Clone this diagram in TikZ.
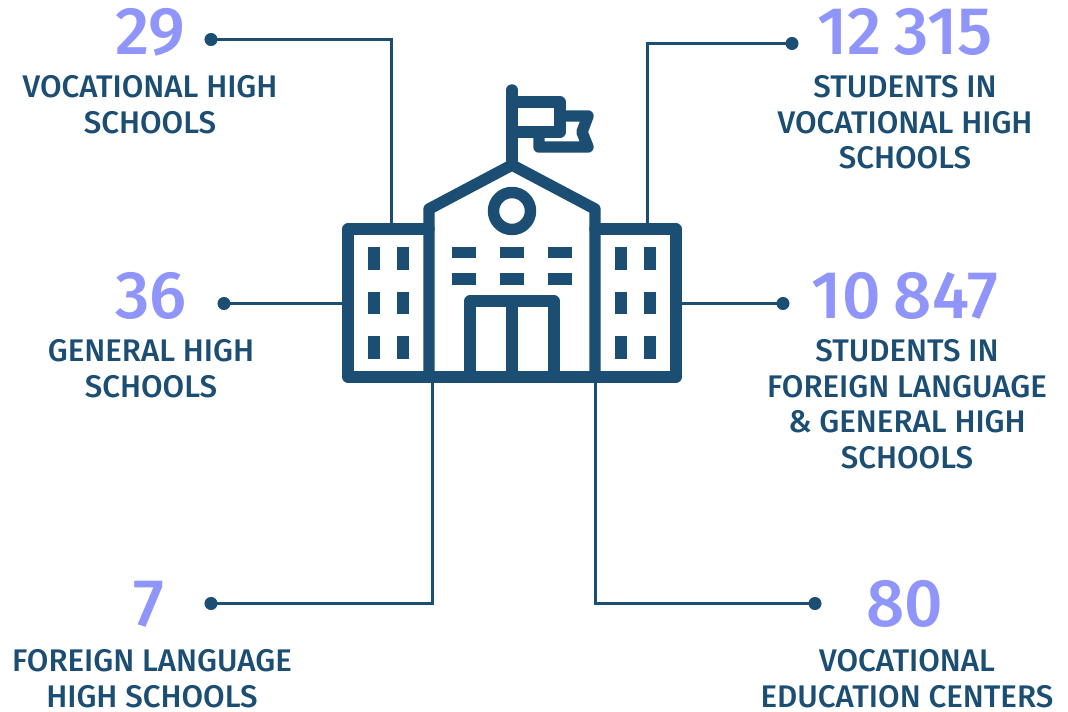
\documentclass[tikz,border=0pt]{standalone}
\usepackage{fontspec}
\setmainfont{Fira Sans Medium}
\newfontfamily\numfont{Fira Sans Medium}
\definecolor{ink}{HTML}{1C4E74}
\definecolor{numc}{HTML}{8F95FB}
\newcommand{\numgap}{\hspace{0.2em}}
\tikzset{
  px/.style={x=0.75pt,y=-0.75pt},
  icon/.style={draw=ink,line width=8.6pt,line join=round,line cap=round},
  iconfill/.style={fill=ink,draw=none},
  link/.style={draw=ink,line width=2.25pt,line join=miter},
  dotn/.style={circle,fill=ink,draw=none,minimum size=9.8pt,inner sep=0pt},
  num/.style={font=\numfont\fontsize{50.5}{50}\selectfont,text=numc,anchor=base,inner sep=0pt},
  lab/.style={font=\fontsize{23.45}{26.6}\selectfont,text=ink,anchor=north,align=center,inner sep=0pt},
}
\begin{document}
\begin{tikzpicture}[px]
\useasboundingbox (0,0) rectangle (1068,712);
% anchors on the building
\coordinate (tl) at (391.5,223);
\coordinate (tr) at (647.5,223);
\coordinate (ml) at (342,303.5);
\coordinate (mr) at (682,303.5);
\coordinate (bl) at (432,383);
\coordinate (br) at (595.5,383);
% dots
\node[dotn] (d1) at (211,39.5) {};
\node[dotn] (d2) at (792,43.5) {};
\node[dotn] (d3) at (224,303.5) {};
\node[dotn] (d4) at (783,303.5) {};
\node[dotn] (d5) at (211,603.5) {};
\node[dotn] (d6) at (815,603.5) {};
% connectors
\draw[link] (d1.center) -| (tl);
\draw[link] (d2.center) -| (tr);
\draw[link] (d3.center) -- (ml);
\draw[link] (d4.center) -- (mr);
\draw[link] (d5.center) -| (bl);
\draw[link] (d6.center) -| (br);
% building
\draw[icon] (429,229) -- (348,229) -- (348,377) -- (676,377) -- (676,229) -- (595,229);
\draw[icon] (429,377) -- (429,209) -- (512,165) -- (595,209) -- (595,377);
\draw[icon] (512,90) -- (512,165);
\draw[icon] (512,102) -- (560,102) -- (560,132) -- (512,132);
\draw[icon] (560,116) -- (588,116) -- (582,132) -- (588,147) -- (539,147) -- (539,132);
\draw[icon,line cap=butt] (512,211) circle (18.5);
\draw[icon] (470,377) -- (470,301) -- (554,301) -- (554,377);
\draw[icon] (512,301) -- (512,377);
\foreach \y/\h in {247/270,292/314,336/359}{
  \foreach \x/\w in {368/380,397/409,615/627,644/656}{
    \fill[iconfill] (\x,\y) rectangle (\w,\h);
  }
}
\foreach \x/\w in {452/476,500/524,548/572}{
  \fill[iconfill] (\x,247) rectangle (\w,258);
  \fill[iconfill] (\x,273) rectangle (\w,285);
}
% numbers
\node[num] (n1) at (150.5,55) {29};
\node[num] (n2) at (905,55) {12\numgap315};
\node[num] (n3) at (151,319) {36};
\node[num] (n4) at (905,319) {10\numgap847};
\node[num] (n5) at (149,627) {7};
\node[num] (n6) at (905,627) {80};
% labels
\node[lab] (l1) at (150,75.5) {VOCATIONAL HIGH\\SCHOOLS};
\node[lab] (l2) at (905,75.5) {STUDENTS IN\\VOCATIONAL HIGH\\SCHOOLS};
\node[lab] (l3) at (151,339.5) {GENERAL HIGH\\SCHOOLS};
\node[lab] (l4) at (907,339.5) {STUDENTS IN\\FOREIGN LANGUAGE\\\& GENERAL HIGH\\SCHOOLS};
\node[lab] (l5) at (152,649.5) {FOREIGN LANGUAGE\\HIGH SCHOOLS};
\node[lab] (l6) at (907,649.5) {VOCATIONAL\\EDUCATION CENTERS};
\end{tikzpicture}
\end{document}
